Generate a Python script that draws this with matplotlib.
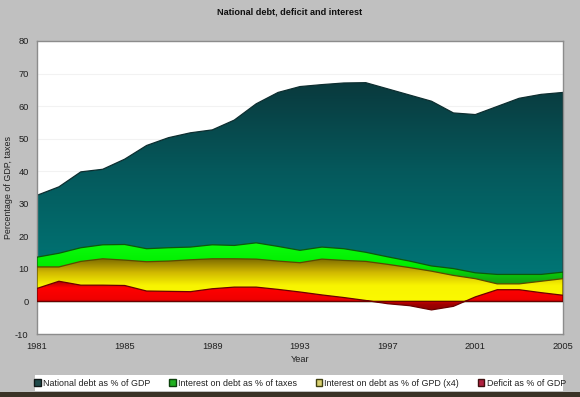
import numpy as np
import matplotlib.pyplot as plt
from matplotlib.colors import LinearSegmentedColormap
from matplotlib.patches import Patch, Rectangle

plt.rcParams['font.family'] = ['Liberation Sans', 'DejaVu Sans']
plt.rcParams['axes.unicode_minus'] = False

years = list(range(1981, 2006))
debt = [32.6, 35.2, 39.8, 40.6, 43.7, 47.9, 50.3, 51.8, 52.7, 55.7, 60.7, 64.2,
        66.0, 66.6, 67.1, 67.2, 65.3, 63.4, 61.5, 57.9, 57.4, 59.9, 62.4, 63.6, 64.2]
int_taxes = [13.6, 14.8, 16.5, 17.4, 17.5, 16.2, 16.5, 16.7, 17.4, 17.2, 18.0, 16.9,
             15.7, 16.7, 16.2, 15.1, 13.7, 12.4, 10.9, 10.1, 8.8, 8.3, 8.3, 8.3, 9.0]
int_gdp4 = [10.6, 10.6, 12.3, 13.1, 12.7, 12.2, 12.4, 12.8, 13.1, 13.1, 13.0, 12.4,
            11.9, 13.0, 12.6, 12.3, 11.4, 10.4, 9.3, 8.0, 7.0, 5.4, 5.4, 6.2, 7.0]
deficit = [4.0, 6.2, 5.0, 5.0, 4.9, 3.2, 3.1, 3.0, 3.9, 4.4, 4.4, 3.7,
           2.9, 2.0, 1.2, 0.3, -0.7, -1.3, -2.6, -1.5, 1.4, 3.6, 3.6, 2.7, 1.9]
labels = ['National debt as % of GDP', 'Interest on debt as % of taxes',
          'Interest on debt as % of GPD (x4)', 'Deficit as % of GDP']

fig = plt.figure(figsize=(5.8, 3.97), dpi=100, facecolor='#c0c0c0')
ax = fig.add_axes([37 / 580, 1 - 334 / 397, 526 / 580, 293 / 397])
ax.set_facecolor('white')


def gradient_area(x, y, stops, edge, z):
    # fill from 0 to y, coloured by a vertical gradient given as (value, colour) stops
    poly = ax.fill_between(x, 0, y, facecolor='none', edgecolor=edge, lw=0.9, zorder=z + 0.1)
    lo, hi = stops[0][0], stops[-1][0]
    cmap = LinearSegmentedColormap.from_list(
        'g', [((v - lo) / (hi - lo), c) for v, c in stops])
    grad = np.linspace(0, 1, 256).reshape(-1, 1)
    im = ax.imshow(grad, extent=[x[0], x[-1], lo, hi], origin='lower',
                   aspect='auto', cmap=cmap, zorder=z, interpolation='bilinear')
    im.set_clip_path(poly.get_paths()[0], transform=ax.transData)


gradient_area(years, debt, [(-5, '#007878'), (10, '#007474'), (40, '#05595c'), (70, '#0a363a')],
              '#0d2e30', 2)
gradient_area(years, int_taxes, [(-5, '#109010'), (6, '#14a014'), (11, '#00ee00'), (20, '#10ff10')],
              '#0c5a0c', 3)
gradient_area(years, int_gdp4, [(-5, '#ffff00'), (5, '#f8f400'), (9, '#d0b800'), (14, '#6e5c00')],
              '#5a4a00', 4)
gradient_area(years, deficit, [(-4, '#800000'), (-1, '#a00000'), (0.5, '#f00000'), (4, '#ff0000'), (7, '#8a0000')],
              '#6a0000', 5)

ax.set_xlim(1981, 2005)
ax.set_ylim(-10, 80)
ax.set_xticks(range(1981, 2006, 4))
ax.set_yticks(range(-10, 81, 10))
ax.yaxis.grid(True, color='#f2f2f2', lw=0.8)
ax.set_axisbelow(True)
ax.tick_params(length=0, labelsize=6.7, colors='#202020')
ax.tick_params(axis='x', pad=6)
ax.tick_params(axis='y', pad=6)
for s in ax.spines.values():
    s.set_color('#8c8c8c')
    s.set_linewidth(1.0)

ax.set_xlabel('Year', fontsize=6.7, color='#202020')
ax.set_ylabel('Percentage of GDP, taxes', fontsize=6.4, color='#202020')
ax.xaxis.set_label_coords(0.5, -(360 - 334) / 293)
ax.yaxis.set_label_coords(-(37 - 9) / 526, 0.5)
ax.xaxis.label.set_va('center')
ax.yaxis.label.set_va('center')
fig.text(0.5, 1 - 12 / 397, 'National debt, deficit and interest', ha='center', va='center',
         fontsize=6.6, fontweight='bold', color='#101010')

# white legend band
fig.patches.append(Rectangle((35 / 580, 1 - 391 / 397), 528 / 580, 16 / 397,
                             transform=fig.transFigure, facecolor='white', edgecolor='none'))
handles = [Patch(facecolor='#1f4a4a', edgecolor='#101818'),
           Patch(facecolor='#20b020', edgecolor='#0c400c'),
           Patch(facecolor='#d8d070', edgecolor='#404010'),
           Patch(facecolor='#b02040', edgecolor='#401010')]
leg = fig.legend(handles, labels, loc='center', ncol=4,
                 bbox_to_anchor=(300 / 580, 1 - 383 / 397),
                 fontsize=6.4, frameon=False, borderaxespad=0,
                 handlelength=0.75, handleheight=0.75, handletextpad=0.25,
                 borderpad=0, columnspacing=2.1)
for t in leg.get_texts():
    t.set_color('#202020')

fig.patches.append(Rectangle((0, 0), 1, 5 / 397, transform=fig.transFigure,
                             facecolor='#3a3226', edgecolor='none'))

fig.savefig('out.png', dpi=100, facecolor=fig.get_facecolor())
